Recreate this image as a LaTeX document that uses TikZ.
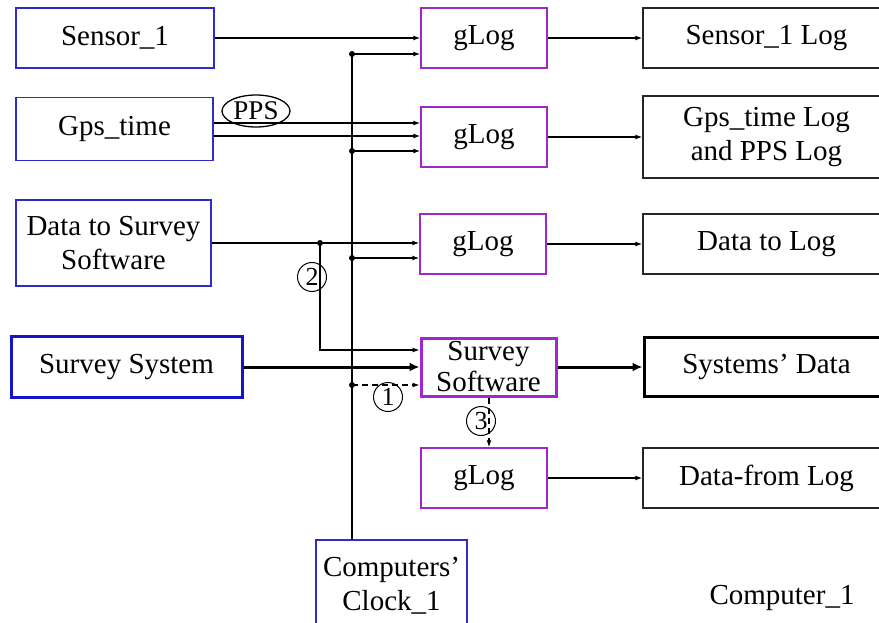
\documentclass[tikz,border=0pt]{standalone}
\usepackage{fontspec}
\setmainfont{Liberation Serif}
\usetikzlibrary{arrows.meta,shapes.geometric}
\definecolor{bbox}{RGB}{45,45,200}
\definecolor{bboxd}{RGB}{20,20,200}
\definecolor{pbox}{RGB}{160,40,200}
\begin{document}
\begin{tikzpicture}[x=1pt,y=-1pt,
  txt/.style={font=\fontsize{29}{33}\selectfont, align=center, inner sep=0pt},
  bluebox/.style={txt, draw=bbox, line width=1.5pt},
  purbox/.style={txt, draw=pbox, line width=1.5pt},
  blkbox/.style={txt, draw=black!85, line width=1.5pt},
  arr/.style={line width=1.2pt, -{Latex[length=7pt,width=5pt]}},
  darr/.style={arr, dash pattern=on 6pt off 4pt},
  tarr/.style={line width=3pt, -{Latex[length=10pt,width=9pt]}},
  dot/.style={circle, fill=black, inner sep=0pt, minimum size=6pt},
  num/.style={circle, draw, line width=1pt, inner sep=0pt, minimum size=29pt, font=\fontsize{26}{26}\selectfont}
]
\useasboundingbox (0,0) rectangle (879,623);
\clip (0,0) rectangle (879,623);
% left boxes
\node[bluebox, minimum width=198, minimum height=60] (s1) at (115,38) {Sensor\_1};
\node[bluebox, minimum width=197, minimum height=63] (gps) at (114.5,129) {Gps\_time};
\node[bluebox, minimum width=195, minimum height=86] (dts) at (113.5,243) {Data to Survey\\[1pt]Software};
\node[txt, draw=bboxd, line width=3pt, minimum width=231, minimum height=61] (ss) at (126.5,367) {Survey System};
\node[bluebox, minimum width=151, minimum height=84, text depth=0pt] (clk) at (391.5,582) {\raisebox{-4pt}{Computers'}\\[1pt]\raisebox{-4pt}{Clock\_1}};
% middle
\node[purbox, minimum width=126, minimum height=60] (g1) at (484,38) {gLog};
\node[purbox, minimum width=126, minimum height=60] (g2) at (484,137) {gLog};
\node[purbox, minimum width=126, minimum height=60] (g3) at (483,244) {gLog};
\node[txt, draw=pbox, line width=3pt, minimum width=135, minimum height=58, font=\fontsize{29}{31}\selectfont] (sw) at (488.5,367) {Survey\\Software};
\node[purbox, minimum width=126, minimum height=60] (g4) at (484,478) {gLog};
% right
\node[blkbox, minimum width=247, minimum height=60] (l1) at (766.5,38) {Sensor\_1 Log};
\node[blkbox, minimum width=247, minimum height=82] (l2) at (766.5,137) {Gps\_time Log\\[1pt]and PPS Log};
\node[blkbox, minimum width=247, minimum height=60] (l3) at (766.5,244) {Data to Log};
\node[txt, draw=black, line width=3pt, minimum width=245, minimum height=59] (l4) at (766.5,367) {Systems' Data};
\node[blkbox, minimum width=247, minimum height=60] (l5) at (766.5,478) {Data-from Log};
\node[txt] (c1lbl) at (782,598) {Computer\_1};
% clock line
\coordinate (k1) at (352,54);
\coordinate (k2) at (352,151);
\coordinate (k3) at (352,258);
\coordinate (k4) at (352,385);
\draw[line width=1.2pt] (k1) -- (k1 |- clk.north);
\foreach \k/\g in {k1/g1,k2/g2,k3/g3}{
  \draw[arr] (\k) -- (\k -| \g.west);
  \node[dot] at (\k) {};
}
\draw[darr] (k4) -- (k4 -| sw.west);
\node[dot] at (k4) {};
% inputs
\draw[arr] (s1.east) -- (s1.east -| g1.west);
\draw[arr] ([yshift=6pt]gps.east) -- ([yshift=6pt]gps.east -| g2.west);
\draw[arr] ([yshift=-7pt]gps.east) -- ([yshift=-7pt]gps.east -| g2.west);
\node[ellipse, draw, line width=1.3pt, minimum width=68, minimum height=32, inner sep=0pt, font=\fontsize{27}{27}\selectfont] (pps) at (256,111) {PPS};
\coordinate (d2) at (320,243);
\draw[arr] (dts.east) -- (dts.east -| g3.west);
\node[dot] at (d2) {};
\draw[arr] (d2) |- ([yshift=17pt]sw.west);
\node[num] (n2) at (312,277) {2};
\draw[tarr] (ss.east) -- (sw.west);
\node[num] (n1) at (388,397) {1};
\draw[darr] ([xshift=0.5pt]sw.south) -- ([xshift=0.5pt]sw.south |- g4.north);
\node[num] (n3) at (481,421) {3};
% outputs
\draw[arr] (g1.east) -- (l1.west);
\draw[arr] (g2.east) -- (l2.west);
\draw[arr] (g3.east) -- (l3.west);
\draw[tarr] (sw.east) -- (l4.west);
\draw[arr] (g4.east) -- (l5.west);
\end{tikzpicture}
\end{document}
